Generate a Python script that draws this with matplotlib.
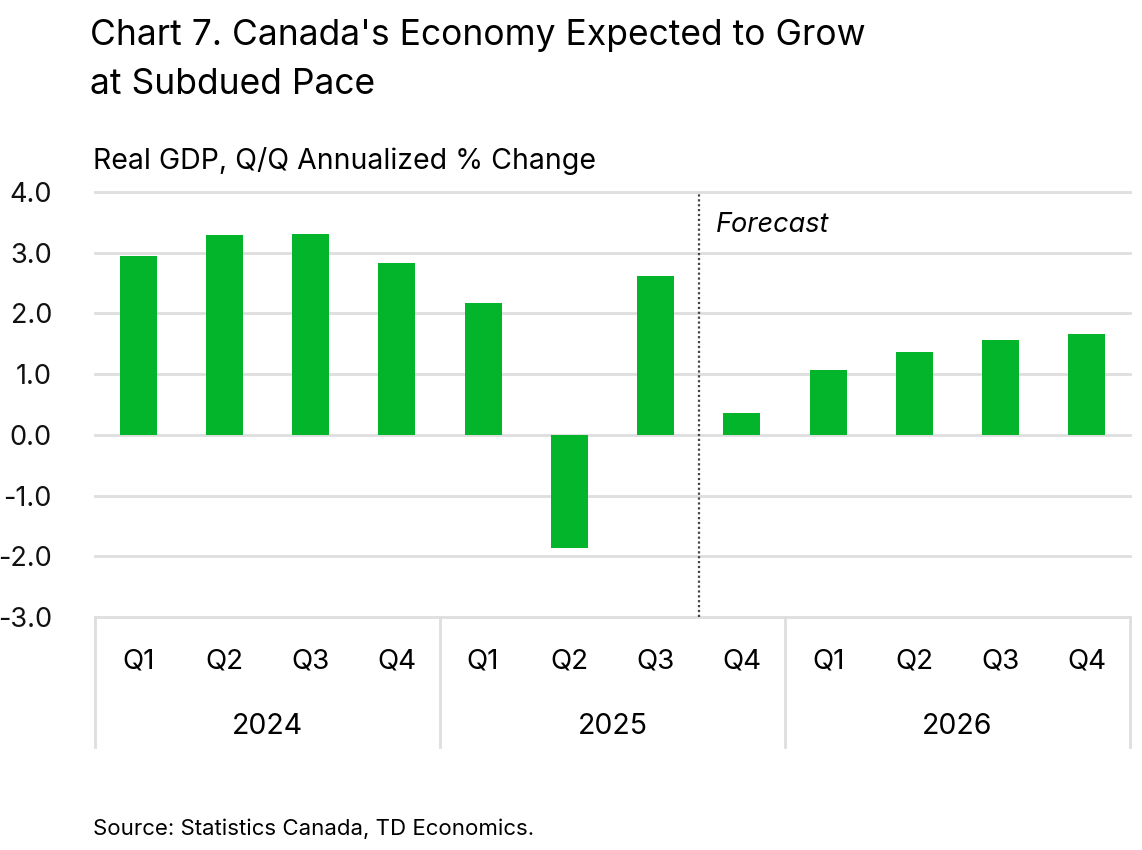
import numpy as np
import matplotlib.pyplot as plt
from matplotlib import transforms

plt.rcParams['font.family'] = ['Inter', 'DejaVu Sans']

quarters = ['Q1', 'Q2', 'Q3', 'Q4'] * 3
years = ['2024', '2025', '2026']
gdp = [2.95, 3.30, 3.31, 2.83, 2.17, -1.86, 2.62, 0.36, 1.07, 1.36, 1.57, 1.66]
forecast_after = 6  # index of last actual quarter

green = '#02B52A'
grid_c = '#DEDEDE'

fig = plt.figure(figsize=(11.42, 8.5), dpi=100)
ax = fig.add_axes([95/1142, 1 - 617/850, (1130 - 95)/1142, (617 - 192)/850])

x = np.arange(len(gdp))
ax.bar(x, gdp, width=0.43, color=green, zorder=3)

ax.set_xlim(-0.5, len(gdp) - 0.5)
ax.set_ylim(-3, 4)
ax.set_yticks(np.arange(-3, 5, 1))
ax.set_yticklabels([f'{v:.1f}' for v in np.arange(-3, 5, 1)], fontsize=19.5, color='#111111')
ax.tick_params(axis='y', length=0, pad=31)
ax.tick_params(axis='x', length=0)
ax.set_xticks([])
for v in np.arange(-3, 5, 1):
    ax.axhline(v, color=grid_c, lw=2, zorder=1, clip_on=False)
for s in ax.spines.values():
    s.set_visible(False)

# forecast divider
xd = forecast_after + 0.5
ax.plot([xd, xd], [-3, 4], color='#444444', lw=1.6, ls=(0, (1, 1.2)), zorder=4)
ax.text(xd + 0.2, 3.45, 'Forecast', fontsize=19.5, style='italic', va='center', ha='left')

# category axis labels
trans = transforms.blended_transform_factory(ax.transData, ax.transAxes)
for i, q in enumerate(quarters):
    ax.text(i, -45/425, q, transform=trans, ha='center', va='center', fontsize=20)
for j, yr in enumerate(years):
    ax.text(4*j + 1.5, -109/425, yr, transform=trans, ha='center', va='center', fontsize=20.5)
for b in [-0.5, 3.5, 7.5, 11.5]:
    ax.plot([b, b], [0, -130/425], transform=trans, color=grid_c, lw=2, clip_on=False)

fig.text(90/1142, 1 - 36/850, "Chart 7. Canada's Economy Expected to Grow", fontsize=25.5, va='center')
fig.text(90/1142, 1 - 84/850, 'at Subdued Pace', fontsize=25.5, va='center')
fig.text(93/1142, 1 - 161/850, 'Real GDP, Q/Q Annualized % Change', fontsize=20.5, va='center')
fig.text(93/1142, 1 - 829/850, 'Source: Statistics Canada, TD Economics.', fontsize=16, va='center')

fig.savefig('out.png', dpi=100)
